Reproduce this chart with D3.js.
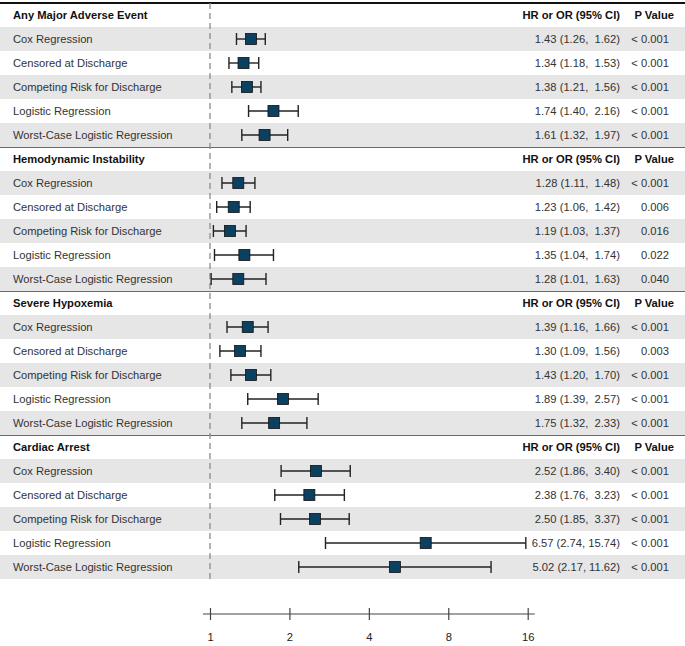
<!DOCTYPE html>
<html>
<head>
<meta charset="utf-8">
<script src="https://cdn.jsdelivr.net/npm/d3@7"></script>
<style>
  html, body { margin: 0; padding: 0; background: #fff; }
  svg { display: block; font-family: "Liberation Sans", Arial, Helvetica, sans-serif; }
</style>
</head>
<body>
<div id="chart"></div>
<script>
const sections = ["Any Major Adverse Event", "Hemodynamic Instability", "Severe Hypoxemia", "Cardiac Arrest"];
const methods = ["Cox Regression", "Censored at Discharge", "Competing Risk for Discharge", "Logistic Regression", "Worst-Case Logistic Regression"];
const estimates = [
  [1.43, 1.34, 1.38, 1.74, 1.61],
  [1.28, 1.23, 1.19, 1.35, 1.28],
  [1.39, 1.30, 1.43, 1.89, 1.75],
  [2.52, 2.38, 2.50, 6.57, 5.02]
];
const lower = [
  [1.26, 1.18, 1.21, 1.40, 1.32],
  [1.11, 1.06, 1.03, 1.04, 1.01],
  [1.16, 1.09, 1.20, 1.39, 1.32],
  [1.86, 1.76, 1.85, 2.74, 2.17]
];
const upper = [
  [1.62, 1.53, 1.56, 2.16, 1.97],
  [1.48, 1.42, 1.37, 1.74, 1.63],
  [1.66, 1.56, 1.70, 2.57, 2.33],
  [3.40, 3.23, 3.37, 15.74, 11.62]
];
const pValues = [
  ["< 0.001", "< 0.001", "< 0.001", "< 0.001", "< 0.001"],
  ["< 0.001", "0.006", "0.016", "0.022", "0.040"],
  ["< 0.001", "0.003", "< 0.001", "< 0.001", "< 0.001"],
  ["< 0.001", "< 0.001", "< 0.001", "< 0.001", "< 0.001"]
];
const tickValues = [1, 2, 4, 8, 16];
const tickLabels = ["1", "2", "4", "8", "16"];
const headerEst = "HR or OR (95% CI)";
const headerP = "P Value";

const W = 685, H = 646;
const rowH = 24, topY = 3;
const nRows = sections.length * (methods.length + 1);

const svg = d3.select("#chart").append("svg").attr("width", W).attr("height", H);

const x = d3.scaleLog().base(2).domain([1, 16]).range([210, 527.7]);
const y = d3.scaleLinear().domain([0, nRows]).range([topY, topY + nRows * rowH]);

// build rows
const rows = [];
sections.forEach((s, si) => {
  rows.push({type: "header", label: s, si});
  methods.forEach((m, mi) => {
    rows.push({type: "data", label: m, si, mi,
      est: estimates[si][mi], lo: lower[si][mi], hi: upper[si][mi], p: pValues[si][mi]});
  });
});
rows.forEach((r, i) => r.i = i);

// grey bands
svg.append("g").selectAll("rect")
  .data(rows.filter(r => r.type === "data" && r.mi % 2 === 0))
  .join("rect")
  .attr("x", 0).attr("width", W)
  .attr("y", d => y(d.i)).attr("height", rowH)
  .attr("fill", "#e6e6e6");

// section separators
svg.append("g").selectAll("line")
  .data(sections.slice(1).map((s, k) => (k + 1) * (methods.length + 1)))
  .join("line")
  .attr("x1", 0).attr("x2", W)
  .attr("y1", d => y(d) + 0.5).attr("y2", d => y(d) + 0.5)
  .attr("stroke", "#6a6a6a").attr("stroke-width", 1.2);

// top line
svg.append("line").attr("x1", 0).attr("x2", W).attr("y1", y(0)).attr("y2", y(0))
  .attr("stroke", "#111").attr("stroke-width", 2);

// reference dashed line
svg.append("line")
  .attr("x1", x(1)).attr("x2", x(1))
  .attr("y1", y(0)).attr("y2", y(nRows))
  .attr("stroke", "#8a8a8a").attr("stroke-width", 1.3)
  .attr("stroke-dasharray", "6,4");

const fmt = d3.format(".2f");
const pad = v => { const s = fmt(v); return s.length < 5 ? " " + s : s; };

// text
const tg = svg.append("g");
rows.forEach(r => {
  const cy = y(r.i) + rowH / 2 + 4;
  if (r.type === "header") {
    tg.append("text").attr("x", 13).attr("y", cy).attr("font-size", 11.2)
      .attr("font-weight", "bold").attr("fill", "#111").text(r.label);
    tg.append("text").attr("x", 620).attr("y", cy).attr("font-size", 11.2)
      .attr("text-anchor", "end").attr("font-weight", "bold").attr("fill", "#111").text(headerEst);
    tg.append("text").attr("x", 674).attr("y", cy).attr("font-size", 11.2)
      .attr("text-anchor", "end").attr("font-weight", "bold").attr("fill", "#111").text(headerP);
  } else {
    tg.append("text").attr("x", 13).attr("y", cy).attr("font-size", 11.2)
      .attr("fill", "#333").text(r.label);
    tg.append("text").attr("x", 620).attr("y", cy).attr("font-size", 11.2)
      .attr("text-anchor", "end").attr("fill", "#333")
      .style("white-space", "pre")
      .text(fmt(r.est) + " (" + fmt(r.lo) + ", " + pad(r.hi) + ")");
    tg.append("text").attr("x", 669).attr("y", cy).attr("font-size", 11.2)
      .attr("text-anchor", "end").attr("fill", "#333").text(r.p);
  }
});

// CI whiskers and markers
const data = rows.filter(r => r.type === "data");
const cg = svg.append("g");
const cyOf = d => y(d.i) + rowH / 2;
cg.selectAll("line.ci").data(data).join("line").attr("class", "ci")
  .attr("x1", d => x(d.lo)).attr("x2", d => x(d.hi))
  .attr("y1", cyOf).attr("y2", cyOf)
  .attr("stroke", "#222").attr("stroke-width", 1.4);
cg.selectAll("line.capl").data(data).join("line").attr("class", "capl")
  .attr("x1", d => x(d.lo)).attr("x2", d => x(d.lo))
  .attr("y1", d => cyOf(d) - 6).attr("y2", d => cyOf(d) + 6)
  .attr("stroke", "#222").attr("stroke-width", 1.4);
cg.selectAll("line.caph").data(data).join("line").attr("class", "caph")
  .attr("x1", d => x(d.hi)).attr("x2", d => x(d.hi))
  .attr("y1", d => cyOf(d) - 6).attr("y2", d => cyOf(d) + 6)
  .attr("stroke", "#222").attr("stroke-width", 1.4);
const sq = 11;
cg.selectAll("rect.pt").data(data).join("rect").attr("class", "pt")
  .attr("x", d => x(d.est) - sq / 2).attr("y", d => cyOf(d) - sq / 2)
  .attr("width", sq).attr("height", sq)
  .attr("fill", "#0b4060").attr("stroke", "#111").attr("stroke-width", 0.8);

// axis
const axY = 614;
const axis = d3.axisBottom(x).tickValues(tickValues)
  .tickFormat((d, i) => tickLabels[i]).tickSize(6).tickPadding(13);
const ag = svg.append("g").attr("transform", `translate(0,${axY})`).call(axis);
ag.select(".domain").remove();
ag.append("line").attr("x1", x(1) - 7).attr("x2", x(16) + 7).attr("y1", 0).attr("y2", 0)
  .attr("stroke", "#444").attr("stroke-width", 1.2);
ag.selectAll(".tick line").attr("y1", -6).attr("y2", 6).attr("stroke", "#444").attr("stroke-width", 1.2);
ag.selectAll(".tick text").attr("font-size", 11.2).attr("fill", "#222")
  .attr("font-family", "Liberation Sans, Arial, sans-serif");
</script>
</body>
</html>
